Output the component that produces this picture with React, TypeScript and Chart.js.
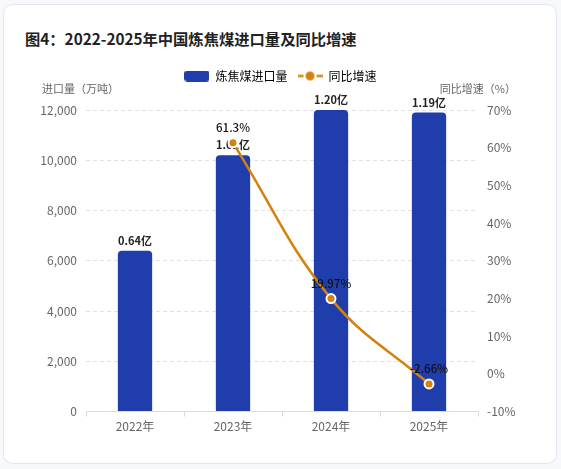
import React, { useEffect, useRef } from "react";
import { Chart, ChartConfiguration, Plugin } from "chart.js/auto";

const years = ["2022年", "2023年", "2024年", "2025年"];
const importVolume = [6400, 10200, 12000, 11900]; // 万吨
const yoyGrowth: (number | null)[] = [null, 61.3, 19.97, -2.66]; // %

const leftTicks = { min: 0, max: 12000, step: 2000 };
const rightTicks = { min: -10, max: 70, step: 10 };

const BLUE = "#1f3eab";
const ORANGE = "#d4820f";
const FONT = "'Noto Sans CJK SC', 'Noto Sans', sans-serif";

function barLegendIcon() {
  const c = document.createElement("canvas");
  c.width = 25;
  c.height = 11;
  const ctx = c.getContext("2d")!;
  ctx.fillStyle = BLUE;
  ctx.beginPath();
  ctx.roundRect(0, 0, 25, 11, 3);
  ctx.fill();
  return c;
}

function lineLegendIcon() {
  const c = document.createElement("canvas");
  c.width = 25;
  c.height = 11;
  const ctx = c.getContext("2d")!;
  ctx.strokeStyle = ORANGE;
  ctx.lineWidth = 2.5;
  ctx.beginPath();
  ctx.moveTo(0, 5.5);
  ctx.lineTo(6, 5.5);
  ctx.moveTo(19, 5.5);
  ctx.lineTo(25, 5.5);
  ctx.stroke();
  ctx.fillStyle = ORANGE;
  ctx.beginPath();
  ctx.arc(12.5, 5.5, 4.5, 0, Math.PI * 2);
  ctx.fill();
  return c;
}

const valueLabels: Plugin<"bar"> = {
  id: "valueLabels",
  afterDatasetDraw(chart, args) {
    if (args.index !== 0) return;
    const ctx = chart.ctx;
    ctx.save();
    ctx.font = `bold 11px ${FONT}`;
    ctx.fillStyle = "#222";
    ctx.textAlign = "center";
    ctx.textBaseline = "middle";
    args.meta.data.forEach((el, i) => {
      const v = importVolume[i];
      ctx.fillText((v / 10000).toFixed(2) + "亿", el.x, el.y - 10);
    });
    ctx.restore();
  },
  afterDatasetsDraw(chart) {
    const ctx = chart.ctx;
    const meta = chart.getDatasetMeta(1);
    ctx.save();
    ctx.font = `500 11.5px ${FONT}`;
    ctx.fillStyle = "#111";
    ctx.textAlign = "center";
    ctx.textBaseline = "middle";
    meta.data.forEach((el, i) => {
      const v = yoyGrowth[i];
      if (v === null) return;
      ctx.fillText(v + "%", el.x, el.y - 15);
    });
    ctx.restore();
  },
  afterDraw(chart) {
    const { ctx, chartArea } = chart;
    ctx.save();
    ctx.font = `11px ${FONT}`;
    ctx.fillStyle = "#666";
    ctx.textBaseline = "middle";
    ctx.textAlign = "left";
    ctx.fillText("进口量（万吨）", chartArea.left - 44, chartArea.top - 21);
    ctx.textAlign = "right";
    ctx.fillText("同比增速（%）", chartArea.right + 38, chartArea.top - 21);
    ctx.restore();
  },
};

const App: React.FC = () => {
  const canvasRef = useRef<HTMLCanvasElement | null>(null);
  const chartRef = useRef<Chart | null>(null);

  useEffect(() => {
    if (!canvasRef.current) return;
    Chart.defaults.font.family = FONT;
    const barIcon = barLegendIcon();
    const lineIcon = lineLegendIcon();

    const config: ChartConfiguration = {
      type: "bar",
      data: {
        labels: years,
        datasets: [
          {
            type: "bar",
            label: "炼焦煤进口量",
            data: importVolume,
            backgroundColor: BLUE,
            borderRadius: 4,
            borderSkipped: "bottom",
            barPercentage: 0.35,
            categoryPercentage: 1,
            yAxisID: "y",
            order: 1,
          },
          {
            type: "line",
            label: "同比增速",
            data: yoyGrowth,
            borderColor: ORANGE,
            borderWidth: 2.5,
            backgroundColor: ORANGE,
            pointBackgroundColor: ORANGE,
            pointBorderColor: "#fff",
            pointBorderWidth: 2,
            pointRadius: 4.5,
            tension: 0.4,
            yAxisID: "y1",
            order: 0,
          },
        ],
      },
      options: {
        animation: false,
        responsive: true,
        maintainAspectRatio: false,
        layout: { padding: { top: 60, left: 0, right: 0, bottom: 32 } },
        plugins: {
          tooltip: { enabled: false },
          legend: {
            position: "top",
            labels: {
              usePointStyle: true,
              pointStyleWidth: 25,
              boxHeight: 11,
              padding: 10,
              color: "#666",
              font: { size: 12, family: FONT },
              generateLabels: () => [
                {
                  text: "炼焦煤进口量",
                  pointStyle: barIcon,
                  fillStyle: BLUE,
                  strokeStyle: BLUE,
                  lineWidth: 0,
                  hidden: false,
                  datasetIndex: 0,
                },
                {
                  text: "同比增速",
                  pointStyle: lineIcon,
                  fillStyle: ORANGE,
                  strokeStyle: ORANGE,
                  lineWidth: 0,
                  hidden: false,
                  datasetIndex: 1,
                },
              ],
            },
          },
        },
        scales: {
          x: {
            grid: {
              display: true,
              drawOnChartArea: false,
              drawTicks: true,
              tickLength: 5,
              color: "#dcdcdc",
            },
            border: { display: true, color: "#dcdcdc" },
            ticks: { color: "#666", font: { size: 12 } },
          },
          x2: {
            type: "category",
            position: "top",
            grid: { display: false },
            border: { display: false },
            ticks: { display: false },
            afterFit: (s: any) => {
              s.height = 18;
            },
          },
          y: {
            position: "left",
            min: leftTicks.min,
            max: leftTicks.max,
            ticks: {
              stepSize: leftTicks.step,
              color: "#666",
              padding: 9,
              font: { size: 12 },
              callback: (v: any) => Number(v).toLocaleString("en-US"),
            },
            grid: {
              color: "#e2e2e2",
              drawTicks: false,
            },
            border: { display: false, dash: [4, 3] },
            afterFit: (s: any) => {
              s.width = 86;
            },
          },
          y1: {
            position: "right",
            min: rightTicks.min,
            max: rightTicks.max,
            ticks: {
              stepSize: rightTicks.step,
              color: "#666",
              padding: 9,
              font: { size: 12 },
              callback: (v: any) => v + "%",
            },
            grid: { display: false, drawTicks: false },
            border: { display: false },
            afterFit: (s: any) => {
              s.width = 83;
            },
          },
        },
      },
      plugins: [valueLabels as Plugin],
    };

    chartRef.current?.destroy();
    chartRef.current = new Chart(canvasRef.current, config);
    return () => {
      chartRef.current?.destroy();
      chartRef.current = null;
    };
  }, []);

  return (
    <div
      style={{
        position: "fixed",
        left: 0,
        top: 0,
        width: 561,
        height: 469,
        background: "#f6f8fb",
        overflow: "hidden",
      }}
    >
      <div
        style={{
          position: "absolute",
          left: 3,
          top: 4,
          width: 554,
          height: 460,
          boxSizing: "border-box",
          background: "#fff",
          border: "1px solid #e3e6ea",
          borderRadius: 10,
        }}
      />
      <div
        style={{
          position: "absolute",
          left: 25,
          top: 28,
          fontFamily: FONT,
          fontWeight: "bold",
          fontSize: 15.3,
          lineHeight: "20px",
          color: "#222",
          whiteSpace: "nowrap",
        }}
      >
        图4：2022-2025年中国炼焦煤进口量及同比增速
      </div>
      <div style={{ position: "absolute", left: 0, top: 0, width: 561, height: 469 }}>
        <canvas ref={canvasRef} />
      </div>
    </div>
  );
};

export default App;
